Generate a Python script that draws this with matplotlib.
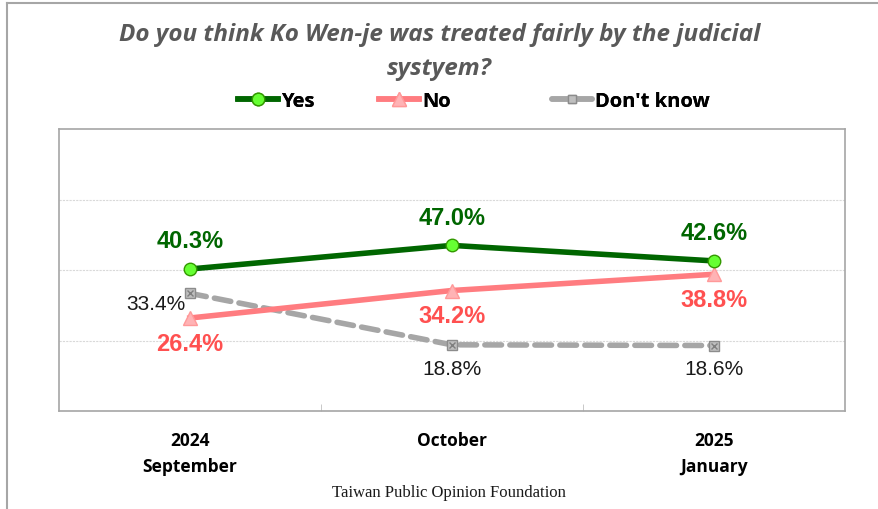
import numpy as np
import matplotlib.pyplot as plt
from matplotlib.lines import Line2D

months = ['2024\nSeptember', 'October', '2025\nJanuary']
yes = [40.3, 47.0, 42.6]
no = [26.4, 34.2, 38.8]
dont_know = [33.4, 18.8, 18.6]

title = "Do you think Ko Wen-je was treated fairly by the judicial\nsystyem?"

plt.rcParams['font.family'] = ['Open Sans', 'DejaVu Sans']

fig = plt.figure(figsize=(8.79, 5.10), dpi=100)
ax = fig.add_axes([0.067, 0.192, 0.894, 0.553])

x = np.arange(len(months))

ax.plot(x, yes, color='#006600', lw=4, marker='o', ms=9,
        markerfacecolor='#66ff33', markeredgecolor='#339900', zorder=4)
ax.plot(x, no, color='#ff7c80', lw=4, marker='^', ms=10,
        markerfacecolor='#ffb3b5', markeredgecolor='#ff9999', zorder=3)
ax.plot(x, dont_know, color='#a6a6a6', lw=4, ls=(0, (3, 1.5)), dash_capstyle='round',
        marker='s', ms=7, markerfacecolor='#bfbfbf', markeredgecolor='#8c8c8c', zorder=2)
# the little x inside the square markers
ax.plot(x, dont_know, ls='none', marker='x', ms=5, mec='#7f7f7f', mew=1, zorder=2)

for i in range(len(x)):
    ax.annotate(f'{yes[i]:.1f}%', (x[i], yes[i]), xytext=(0, 12), textcoords='offset points',
                ha='center', va='bottom', fontsize=17, fontweight='bold', color='#006600',
                family=['Liberation Sans'])
    ax.annotate(f'{no[i]:.1f}%', (x[i], no[i]), xytext=(0, -10), textcoords='offset points',
                ha='center', va='top', fontsize=17, fontweight='bold', color='#ff5050',
                family=['Liberation Sans'])
# don't know labels
ax.annotate(f'{dont_know[0]:.1f}%', (x[0], dont_know[0]), xytext=(-3, -7), textcoords='offset points',
            ha='right', va='center', fontsize=15, color='#1a1a1a', family=['Liberation Sans'])
for i in range(1, len(x)):
    ax.annotate(f'{dont_know[i]:.1f}%', (x[i], dont_know[i]), xytext=(0, -10), textcoords='offset points',
                ha='center', va='top', fontsize=15, color='#1a1a1a', family=['Liberation Sans'])

ax.set_xlim(-0.5, 2.5)
ax.set_ylim(0, 80)
ax.set_yticks([20, 40, 60])
ax.yaxis.grid(True, color='#d9d9d9', lw=0.8, ls=(0, (2, 1)))
ax.tick_params(axis='y', length=0, labelleft=False)
ax.set_xticks(x)
ax.set_xticklabels(months, fontsize=12.5, fontweight='bold', linespacing=1.6)
ax.set_xticks([0.5, 1.5], minor=True)
ax.tick_params(axis='x', which='major', length=0, pad=14)
ax.tick_params(axis='x', which='minor', length=5, direction='in', color='#bfbfbf')
for s in ax.spines.values():
    s.set_color('#a6a6a6')
    s.set_linewidth(1.2)

fig.text(0.5, 0.898, title, ha='center', va='center', fontsize=17.5, fontweight='bold',
         style='italic', color='#595959', linespacing=1.6)

handles = [
    Line2D([], [], color='#006600', lw=4, marker='o', ms=9, markerfacecolor='#66ff33', markeredgecolor='#339900'),
    Line2D([], [], color='#ff7c80', lw=4, marker='^', ms=10, markerfacecolor='#ffb3b5', markeredgecolor='#ff9999'),
    Line2D([], [], color='#a6a6a6', lw=4, marker='s', ms=6, markerfacecolor='#bfbfbf', markeredgecolor='#8c8c8c',
           solid_capstyle='round'),
]
names = ['Yes', 'No', "Don't know"]
# legend entries placed one by one, the gaps are uneven in the original
starts = [238, 379, 552]
for h, n, xs in zip(handles, names, starts):
    leg = fig.legend([h], [n], loc='center left', bbox_to_anchor=(xs / 879, 0.80),
                     frameon=False, prop={'weight': 'bold', 'size': 14.5},
                     handlelength=2.0, handletextpad=0.15, borderpad=0, borderaxespad=0)
    fig.add_artist(leg)

fig.text(0.511, 0.033, 'Taiwan Public Opinion Foundation', ha='center', va='center',
         fontsize=12, family=['Liberation Serif'], color='#1a1a1a')

# partial frame around the picture
fig.add_artist(Line2D([0.008, 1.0], [0.992, 0.992], color='#a6a6a6', lw=1.5, transform=fig.transFigure))
fig.add_artist(Line2D([0.008, 0.008], [0.0, 0.992], color='#a6a6a6', lw=1.5, transform=fig.transFigure))

fig.savefig('out.png', dpi=100)
